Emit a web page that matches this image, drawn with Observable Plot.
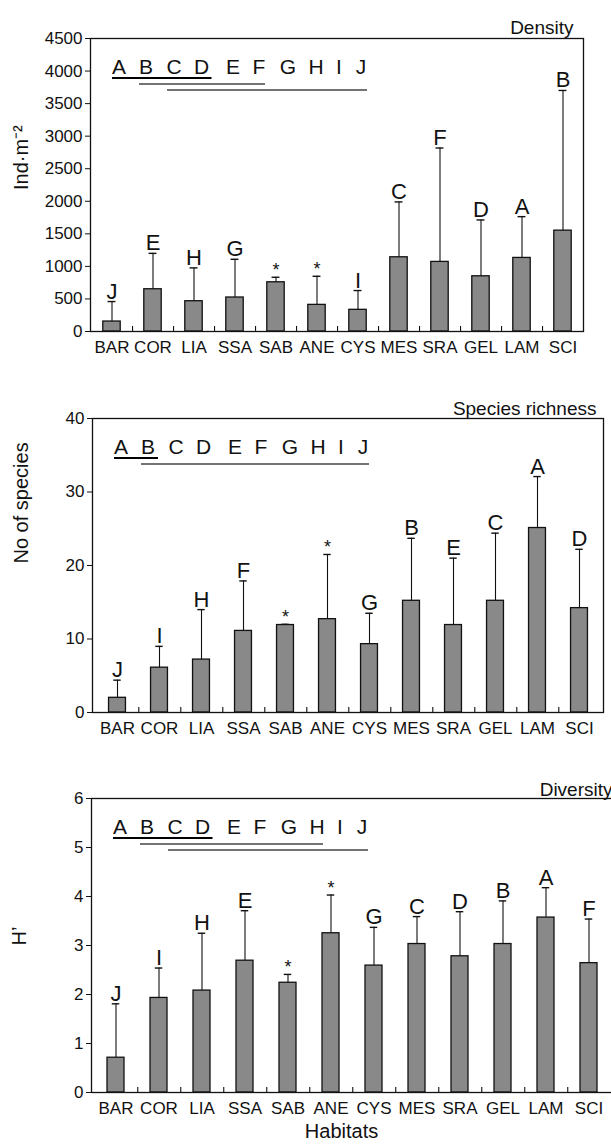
<!DOCTYPE html>
<html><head><meta charset="utf-8">
<script src="https://cdn.jsdelivr.net/npm/d3@7"></script>
<script src="https://cdn.jsdelivr.net/npm/@observablehq/plot@0.6"></script>
<style>
html,body{margin:0;padding:0;background:#fff;overflow:hidden;}
#root{position:relative;width:611px;height:1147px;overflow:hidden;background:#fff;}
.panel{position:absolute;left:0;}
</style></head><body><div id="root"></div>
<script>
// ---------- data ----------
const habitats = ["BAR","COR","LIA","SSA","SAB","ANE","CYS","MES","SRA","GEL","LAM","SCI"];

const densityMean = [153, 649, 465, 522, 756, 409, 333, 1140, 1069, 848, 1130, 1549];
const densitySD   = [307, 551, 512, 587, 77, 439, 296, 850, 1749, 865, 634, 2153];
const densityLetters = ["J","E","H","G","*","*","I","C","F","D","A","B"];

const richnessMean = [2.0, 6.1, 7.2, 11.1, 11.9, 12.7, 9.3, 15.2, 11.9, 15.2, 25.1, 14.2];
const richnessSD   = [2.4, 2.9, 6.8, 6.8, 0.1, 8.8, 4.2, 8.5, 9.1, 9.2, 7.0, 8.0];
const richnessLetters = ["J","I","H","F","*","*","G","B","E","C","A","D"];

const diversityMean = [0.71, 1.93, 2.08, 2.69, 2.24, 3.25, 2.59, 3.03, 2.78, 3.03, 3.57, 2.64];
const diversitySD   = [1.10, 0.61, 1.17, 1.02, 0.17, 0.78, 0.78, 0.56, 0.91, 0.88, 0.61, 0.90];
const diversityLetters = ["J","I","H","E","*","*","G","C","D","B","A","F"];

const groupLetters = ["A","B","C","D","E","F","G","H","I","J"];
// homogeneous groups: [first letter index, last letter index]
const densityGroups   = [[0,3],[1,5],[2,9]];
const richnessGroups  = [[0,1],[1,9]];
const diversityGroups = [[0,3],[1,7],[2,9]];

// ---------- layout (pixels) ----------
const FONT = '"Liberation Sans", Arial, Helvetica, sans-serif';
const legendLayout = {
  offsets: [29, 56, 84, 111.5, 143, 169, 198, 226, 249, 271],
  baseline: 36,
  lineDy: [4, 10, 16]
};

function legendMark(groups) {
  return (index, scales, values, dimensions) => {
    const g = d3.create("svg:g");
    const x0 = dimensions.marginLeft;
    const y0 = dimensions.marginTop + legendLayout.baseline;
    groupLetters.forEach((l, i) => {
      g.append("text")
        .attr("x", x0 + legendLayout.offsets[i])
        .attr("y", y0)
        .attr("text-anchor", "middle")
        .attr("font-size", 21)
        .attr("fill", "#111")
        .text(l);
    });
    groups.forEach(([a, b], k) => {
      const thick = k === 0;
      g.append("line")
        .attr("x1", x0 + legendLayout.offsets[a] - 7)
        .attr("x2", x0 + legendLayout.offsets[b] + (thick ? 10 : 6))
        .attr("y1", y0 + legendLayout.lineDy[k])
        .attr("y2", y0 + legendLayout.lineDy[k])
        .attr("stroke", thick ? "#000" : "#444")
        .attr("stroke-width", thick ? 2.2 : 1.3);
    });
    return g.node();
  };
}

function panel(o) {
  const data = habitats.map((h, i) => ({hab: h, mean: o.mean[i], top: o.mean[i] + o.sd[i], label: o.letters[i]}));
  const step = (o.width - o.marginLeft - o.marginRight) / habitats.length;
  const barInset = (step - 17.5) / 2;
  const capInset = (step - 8) / 2;
  const marks = [
    Plot.barY(data, {x: "hab", y: "mean", fill: "#898989", stroke: "#111", strokeWidth: 1.3, insetLeft: barInset, insetRight: barInset}),
    Plot.ruleX(data, {x: "hab", y1: "mean", y2: "top", stroke: "#111", strokeWidth: 1.1}),
    Plot.tickY(data, {x: "hab", y: "top", stroke: "#111", strokeWidth: 1.4, insetLeft: capInset, insetRight: capInset}),
    Plot.ruleX(habitats.slice(0, -1), {x: d => d, dx: step / 2, y1: 0, y2: o.yMax * 0.017, stroke: "#111", strokeWidth: 1.1}),
    Plot.frame({stroke: "#111", strokeWidth: 1.3}),
    Plot.text(data.filter(d => d.label !== "*"), {x: "hab", y: "top", text: "label", lineAnchor: "bottom", dy: -3, fontSize: 22, fill: "#111"}),
    Plot.text(data.filter(d => d.label === "*"), {x: "hab", y: "top", text: "label", lineAnchor: "bottom", dy: -1, fontSize: 18, fill: "#111"}),
    Plot.text([o.title], {text: d => d, frameAnchor: "top-right", textAnchor: "end", dx: o.titleDx, dy: o.titleDy, fontSize: 19, fill: "#111"}),
    Plot.text([o.ylabel], {text: d => d, frameAnchor: "left", rotate: -90, dx: o.ylabelDx, dy: o.ylabelDy, fontSize: 20, fill: "#111"}),
    legendMark(o.groups)
  ];
  if (o.xlabel) marks.push(Plot.text([o.xlabel], {text: d => d, frameAnchor: "bottom", dx: o.xlabelDx, dy: 45, fontSize: 20, fill: "#111"}));
  const chart = Plot.plot({
    width: o.width,
    height: o.height,
    marginLeft: o.marginLeft,
    marginRight: o.marginRight,
    marginTop: o.marginTop,
    marginBottom: o.marginBottom,
    style: {fontFamily: FONT, fontSize: "17px", color: "#111", background: "#fff", maxWidth: "none"},
    x: {domain: habitats, padding: 0, tickSize: 0, tickPadding: 9, label: null},
    y: {domain: [0, o.yMax], ticks: o.yTickCount, tickSize: 5, tickPadding: 3, tickFormat: d => String(d), label: null},
    marks
  });
  const div = document.createElement("div");
  div.className = "panel";
  div.style.top = o.top + "px";
  div.style.width = o.width + "px";
  div.appendChild(chart);
  document.getElementById("root").appendChild(div);
}

panel({top: 0, width: 611, height: 371, marginLeft: 90, marginRight: 28, marginTop: 38, marginBottom: 40,
  yMax: 4500, yTickCount: 9, mean: densityMean, sd: densitySD, letters: densityLetters,
  title: "Density", titleDx: -10, titleDy: -18, ylabel: "Ind·m⁻²", ylabelDx: -69, ylabelDy: 5, groups: densityGroups});

panel({top: 378, width: 611, height: 374, marginLeft: 92, marginRight: 8, marginTop: 40, marginBottom: 40,
  yMax: 40, yTickCount: 4, mean: richnessMean, sd: richnessSD, letters: richnessLetters,
  title: "Species richness", titleDx: -7, titleDy: -17, ylabel: "No of species", ylabelDx: -71, ylabelDy: -2, groups: richnessGroups});

panel({top: 758, width: 615, height: 389, marginLeft: 91, marginRight: 2, marginTop: 40, marginBottom: 55,
  yMax: 6, yTickCount: 6, mean: diversityMean, sd: diversitySD, letters: diversityLetters,
  title: "Diversity", titleDx: -1, titleDy: -16, ylabel: "H’", ylabelDx: -71.5, ylabelDy: 0, groups: diversityGroups,
  xlabel: "Habitats", xlabelDx: -11});
</script>
</body></html>
